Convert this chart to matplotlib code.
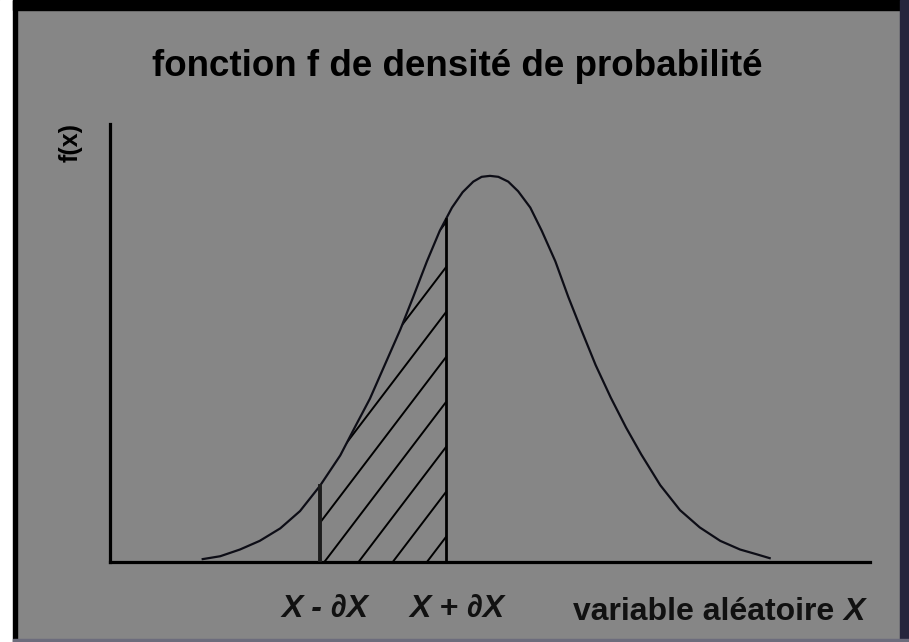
import numpy as np
import matplotlib.pyplot as plt
from matplotlib.patches import Rectangle, Polygon

# density curve (x on a 0-10 scale, f(x))
curve_x = [1.22, 1.45, 1.71, 1.97, 2.24, 2.50, 2.76, 3.03, 3.22, 3.42,
           3.62, 3.82, 3.99, 4.17, 4.34, 4.50, 4.64, 4.78, 4.89, 5.00,
           5.11, 5.24, 5.37, 5.53, 5.68, 5.86, 6.03, 6.20, 6.39, 6.59,
           6.79, 6.99, 7.24, 7.50, 7.76, 8.03, 8.29, 8.51, 8.68]
curve_y = [0.003, 0.006, 0.013, 0.022, 0.035, 0.053, 0.079, 0.111, 0.140, 0.170,
           0.206, 0.242, 0.276, 0.313, 0.345, 0.369, 0.385, 0.396, 0.401, 0.402,
           0.401, 0.396, 0.386, 0.369, 0.345, 0.313, 0.276, 0.242, 0.205, 0.171,
           0.140, 0.112, 0.080, 0.054, 0.036, 0.022, 0.013, 0.008, 0.004]

# interval [x - dx, x + dx]
x_low = 2.76
x_high = 4.42

title = 'fonction f de densité de probabilité'
ylabel = 'f(x)'
lab_low = 'X - ∂X'
lab_high = 'X + ∂X'
xlabel = 'variable aléatoire'

W, H = 909, 642
bg = '#868686'
ink = '#0d0d16'
fam = ['Liberation Sans', 'DejaVu Sans']

fig = plt.figure(figsize=(W / 100, H / 100), dpi=100)
fig.patch.set_facecolor(bg)

# scanned frame
fig.patches.append(Rectangle((0, 0), 13 / W, 1, transform=fig.transFigure, color='white', zorder=0))
fig.patches.append(Rectangle((13 / W, 0), 4 / W, 1, transform=fig.transFigure, color='black', zorder=0))
fig.patches.append(Rectangle((13 / W, 1 - 10 / H), 1, 10 / H, transform=fig.transFigure, color='black', zorder=0))
fig.patches.append(Rectangle((1 - 9 / W, 0), 9 / W, 1, transform=fig.transFigure, color='#25253c', zorder=0))
fig.patches.append(Rectangle((13 / W, 0), 1, 3 / H, transform=fig.transFigure, color='#6c6c7c', zorder=0))

ax = fig.add_axes([110 / W, 1 - 562 / H, 760 / W, 438 / H])
ax.set_facecolor('none')
ax.set_xlim(0, 10)
ax.set_ylim(0, 0.456)
for s in ['top', 'right']:
    ax.spines[s].set_visible(False)
for s in ['left', 'bottom']:
    ax.spines[s].set_linewidth(2.3)
    ax.spines[s].set_color('black')
ax.set_xticks([])
ax.set_yticks([])

ax.plot(curve_x, curve_y, color=ink, lw=1.6, solid_joinstyle='round', zorder=3)

# hatched area under the curve between the two bounds
y_low = np.interp(x_low, curve_x, curve_y)
y_high = np.interp(x_high, curve_x, curve_y)
px = [x_low] + [x for x in curve_x if x_low < x < x_high] + [x_high]
py = [y_low] + [y for x, y in zip(curve_x, curve_y) if x_low < x < x_high] + [y_high]
poly = Polygon(np.column_stack([px + [x_high, x_low], py + [0, 0]]),
               closed=True, fill=False, edgecolor='none')
ax.add_patch(poly)
slope = 0.104
for x0 in np.arange(x_low + 0.06 - 8 * 0.45, x_high, 0.45):
    ln, = ax.plot([x0, x0 + 8], [0, 8 * slope], color='black', lw=1.4)
    ln.set_clip_path(poly)

ax.plot([x_low, x_low], [0, y_low], color='#1c1c1c', lw=2.8, zorder=4)
ax.plot([x_high, x_high], [0, y_high], color='black', lw=2.0, zorder=4)

fig.text(457 / W, 1 - 66 / H, title, ha='center', va='center',
         fontsize=26.5, fontweight='bold', family=fam, color='black')
fig.text(71 / W, 1 - 143 / H, ylabel, ha='center', va='center', rotation=90,
         fontsize=18, fontweight='bold', family=fam, color='black')
fig.text(325 / W, 1 - 617 / H, lab_low, ha='center', va='baseline',
         fontsize=23, fontweight='bold', fontstyle='italic', family=fam, color='#111111')
fig.text(457 / W, 1 - 617 / H, lab_high, ha='center', va='baseline',
         fontsize=23, fontweight='bold', fontstyle='italic', family=fam, color='#111111')
fig.text(834 / W, 1 - 620 / H, xlabel, ha='right', va='baseline',
         fontsize=23, fontweight='bold', family=fam, color='#111111')
fig.text(843 / W, 1 - 620 / H, 'X', ha='left', va='baseline',
         fontsize=23, fontweight='bold', fontstyle='italic', family=fam, color='#111111')

fig.savefig('out.png', dpi=100, facecolor=fig.get_facecolor())
